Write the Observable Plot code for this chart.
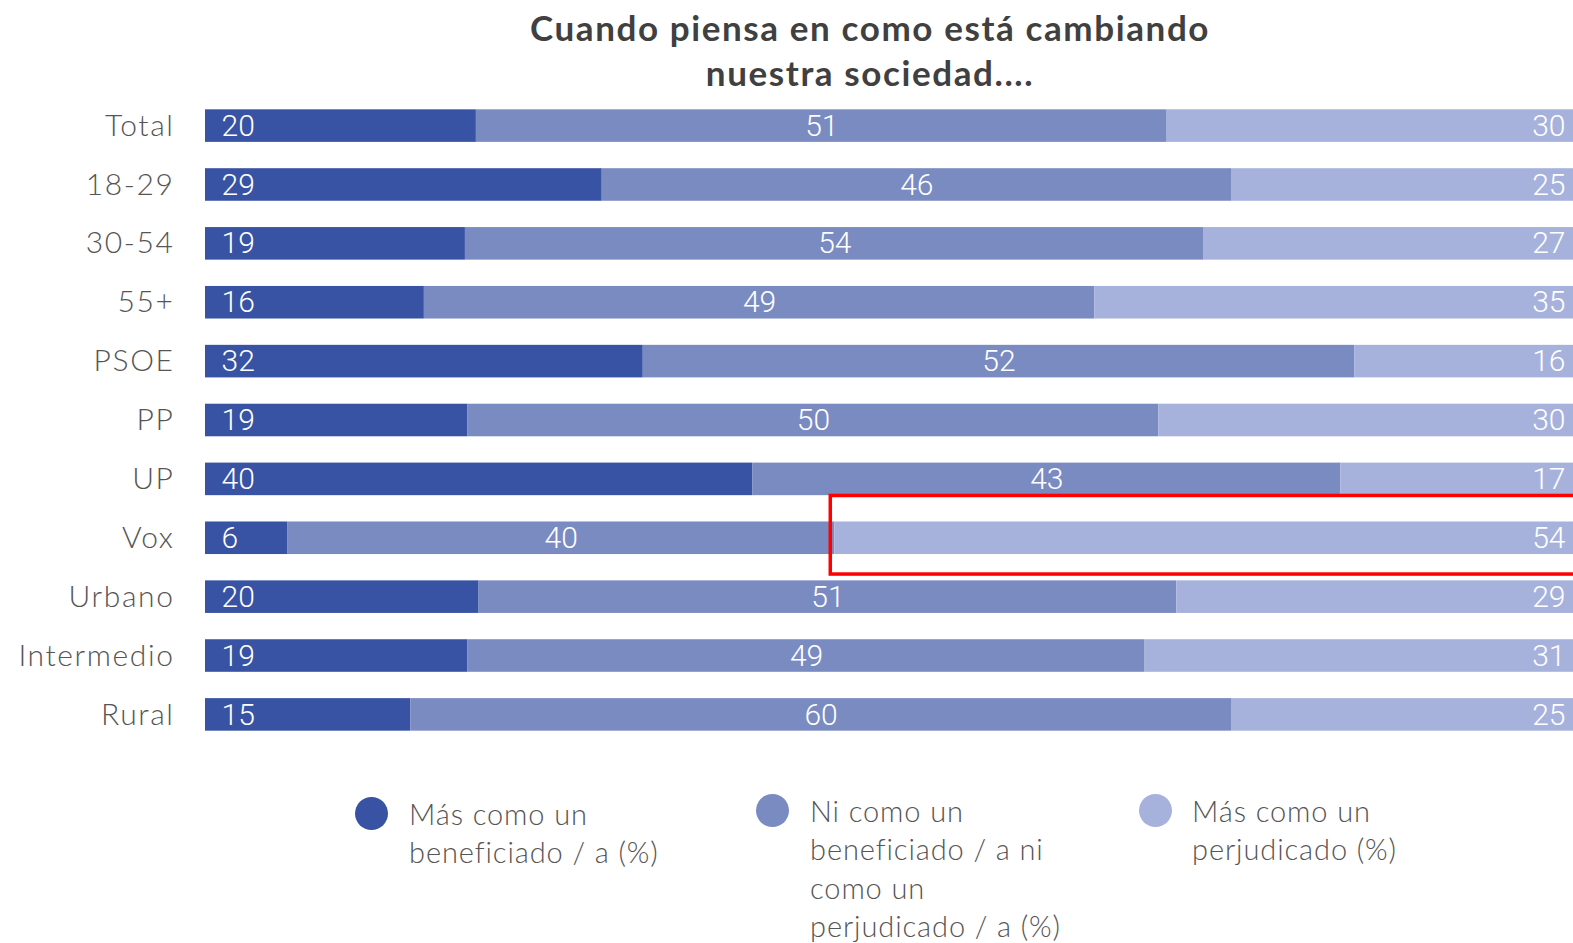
<!DOCTYPE html>
<html>
<head>
<meta charset="utf-8">
<script src="https://cdn.jsdelivr.net/npm/d3@7"></script>
<script src="https://cdn.jsdelivr.net/npm/@observablehq/plot@0.6"></script>
<style>
  html, body { margin: 0; padding: 0; background: #fff; overflow: hidden; }
  #wrap { position: relative; width: 1573px; height: 943px; }
  #title { height: 83px; padding-top: 5px; box-sizing: border-box; padding-left: 167px; width: 1573px;
    text-align: center; font-family: Lato, "Open Sans", sans-serif; font-weight: 700; font-size: 35px;
    letter-spacing: 1.6px; line-height: 45px; color: #404040; }
  #chart svg { display: block; overflow: hidden; }
  .leg { position: absolute; font-family: Lato, sans-serif; font-weight: 300; font-size: 29px; letter-spacing: 0.9px;
    line-height: 38.3px; color: #555; }
  .leg .dot { position: absolute; width: 33px; height: 33px; border-radius: 50%; }
</style>
</head>
<body>
<div id="wrap">
  <div id="title"></div>
  <div id="chart"></div>
  <div id="legend"></div>
</div>
<script>
const titleLines = ["Cuando piensa en como está cambiando", "nuestra sociedad...."];
const categories = ["Total", "18-29", "30-54", "55+", "PSOE", "PP", "UP", "Vox", "Urbano", "Intermedio", "Rural"];
const series = [
  "Más como un beneficiado / a (%)",
  "Ni como un beneficiado / a ni como un perjudicado / a (%)",
  "Más como un perjudicado (%)"
];
const beneficiado = [20, 29, 19, 16, 32, 19, 40, 6, 20, 19, 15];
const ni = [51, 46, 54, 49, 52, 50, 43, 40, 51, 49, 60];
const perjudicado = [30, 25, 27, 35, 16, 30, 17, 54, 29, 31, 25];
const colors = ["#3853A4", "#7A8BC2", "#A7B2DC"];
const legendLines = [
  ["Más como un", "beneficiado / a (%)"],
  ["Ni como un", "beneficiado / a ni", "como un", "perjudicado / a (%)"],
  ["Más como un", "perjudicado (%)"]
];
const highlight = {category: "Vox", series: 2};

document.getElementById("title").innerHTML = titleLines.join("<br>");

const values = [beneficiado, ni, perjudicado];
const rows = categories.flatMap((c, i) => values.map((arr, s) => ({cat: c, s, series: series[s], value: arr[i]})));

const valueFont = {fill: "white", fontSize: 30, fontFamily: "Roboto, sans-serif", fontWeight: 300};
const base = {offset: "normalize", x: "value", y: "cat", z: "series"};

const chart = Plot.plot({
  width: 1573,
  height: 674,
  marginLeft: 205,
  marginRight: 0,
  marginTop: 0,
  marginBottom: 0,
  x: {axis: null, domain: [0, 1]},
  y: {domain: categories, padding: 0.447, round: false, label: null},
  color: {domain: series, range: colors},
  marks: [
    Plot.barX(rows, Plot.stackX({...base, fill: "series"})),
    Plot.text(rows, Plot.stackX1({...base, text: d => d.s === 0 ? String(d.value) : "", textAnchor: "start", dx: 16, ...valueFont})),
    Plot.text(rows, Plot.stackX({...base, text: d => d.s === 1 ? String(d.value) : "", ...valueFont})),
    Plot.text(rows, Plot.stackX2({...base, text: d => d.s === 2 ? String(d.value) : "", textAnchor: "end", dx: -8, ...valueFont})),
    Plot.barX(rows, Plot.stackX({...base, fill: "none", stroke: "red", strokeWidth: 3.5,
      strokeOpacity: d => (d.cat === highlight.category && d.s === highlight.series) ? 1 : 0,
      insetTop: -26, insetBottom: -20, insetLeft: -4, insetRight: -10})),
    Plot.axisY({tickSize: 0, tickPadding: 31, fontSize: 30, fontFamily: "Lato, sans-serif", fontWeight: 300, fill: "#555", label: null})
  ]
});
chart.querySelectorAll("g[aria-label='y-axis tick label'] text, g[aria-label='y-axis tick label']").forEach(el => el.style.letterSpacing = "1.6px");
document.getElementById("chart").appendChild(chart);

const legPos = [{left: 355, top: 797, tx: 409}, {left: 756, top: 794, tx: 810}, {left: 1139, top: 794, tx: 1192}];
const legend = document.getElementById("legend");
series.forEach((s, i) => {
  const p = legPos[i];
  const dot = document.createElement("div");
  dot.className = "leg";
  dot.style.left = p.left + "px";
  dot.style.top = p.top + "px";
  dot.innerHTML = `<div class="dot" style="background:${colors[i]}"></div>`;
  legend.appendChild(dot);
  const t = document.createElement("div");
  t.className = "leg";
  t.style.left = p.tx + "px";
  t.style.top = (p.top - 2) + "px";
  t.innerHTML = legendLines[i].join("<br>");
  legend.appendChild(t);
});
</script>
</body>
</html>
